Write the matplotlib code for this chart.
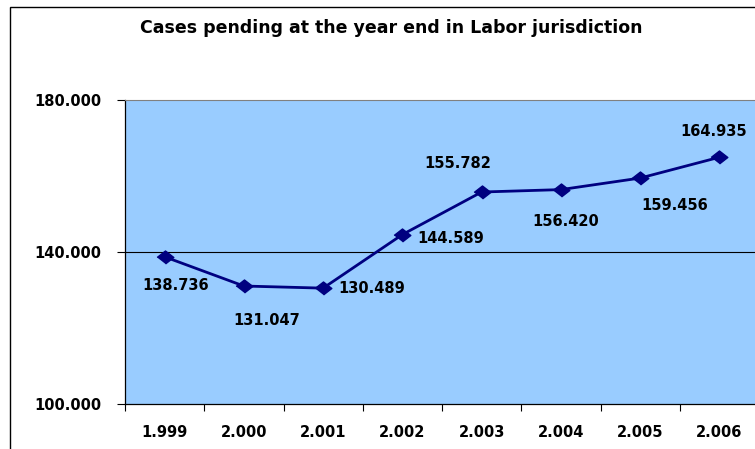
import matplotlib.pyplot as plt
from matplotlib.patches import Rectangle

years = [1999, 2000, 2001, 2002, 2003, 2004, 2005, 2006]
pending = [138736, 131047, 130489, 144589, 155782, 156420, 159456, 164935]
y_ticks = [100000, 140000, 180000]
title = "Cases pending at the year end in Labor jurisdiction"

# label offsets from each point, in pixels (x right, y up)
label_offsets = [(11, -29), (23, -34), (49, 0), (48, -4),
                 (-24, 29), (5, -32), (35, -27), (-6, 26)]


def dotted(v):
    return f"{v:,}".replace(",", ".")


W, H = 755, 449
fig = plt.figure(figsize=(W / 100, H / 100), dpi=100)
plt.rcParams['font.family'] = ['DejaVu Sans']

# outer chart border (runs past the right and bottom edges)
fig.patches.append(Rectangle((10 / W, -0.5), 2, 1.5 - 7 / H, transform=fig.transFigure,
                             fill=False, edgecolor="black", linewidth=1))

ax = fig.add_axes([125 / W, 1 - 404 / H, (759 - 125) / W, (404 - 100) / H])
ax.set_facecolor("#99CCFF")
ax.set_xlim(-0.5, len(years) - 0.5)
ax.set_ylim(y_ticks[0], y_ticks[-1])

x = list(range(len(years)))
ax.plot(x, pending, color="#000080", linewidth=2,
        marker=[(-1, 0), (0, 0.78), (1, 0), (0, -0.78)], markersize=12,
        markerfacecolor="#000080", markeredgecolor="#000080", zorder=3)

for i, v in enumerate(pending):
    dx, dy = label_offsets[i]
    ax.annotate(dotted(v), (i, v), xytext=(dx, dy), textcoords="offset pixels",
                ha="center", va="center", fontsize=10.5, fontweight="bold", color="black")

# gridlines
for t in y_ticks[1:-1]:
    ax.axhline(t, color="black", linewidth=0.8, zorder=1)

ax.set_yticks(y_ticks)
ax.set_yticklabels([dotted(t) for t in y_ticks], fontsize=10.5, fontweight="bold")
ax.tick_params(axis="y", direction="out", length=6, width=0.8, pad=11)

ax.set_xticks([i - 0.5 for i in range(len(years) + 1)])
ax.set_xticklabels([])
ax.set_xticks(x, minor=True)
ax.set_xticklabels([dotted(y) for y in years], minor=True, fontsize=10.5, fontweight="bold")
ax.tick_params(axis="x", which="major", direction="out", length=5, width=0.8)
ax.tick_params(axis="x", which="minor", length=0, pad=15)

for s in ["left", "bottom"]:
    ax.spines[s].set_color("black")
    ax.spines[s].set_linewidth(0.9)
ax.spines["top"].set_color("#808080")
ax.spines["right"].set_color("#808080")

fig.text(391 / W, 1 - 28 / H, title, ha="center", va="center",
         fontsize=12.5, fontweight="bold")

fig.savefig("out.png", dpi=100)
